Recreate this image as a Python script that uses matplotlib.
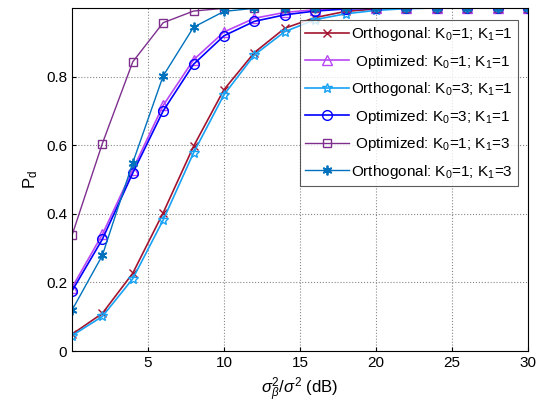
import numpy as np
import matplotlib
matplotlib.use("Agg")
import matplotlib.pyplot as plt

plt.rcParams['font.family'] = ['Liberation Sans', 'DejaVu Sans']
plt.rcParams['mathtext.fontset'] = 'custom'
plt.rcParams['mathtext.rm'] = 'Liberation Sans'
plt.rcParams['mathtext.it'] = 'Liberation Sans:italic'

snr = [0, 2, 4, 6, 8, 10, 12, 14, 16, 18, 20, 22, 24, 26, 28, 30]

orth_11 = [0.049, 0.110, 0.227, 0.403, 0.597, 0.762, 0.870, 0.941, 0.972, 0.990, 0.997, 1, 1, 1, 1, 1]
opt_11 = [0.185, 0.340, 0.529, 0.716, 0.849, 0.930, 0.970, 0.987, 0.995, 0.999, 1, 1, 1, 1, 1, 1]
orth_31 = [0.045, 0.101, 0.211, 0.382, 0.578, 0.747, 0.863, 0.931, 0.966, 0.983, 0.993, 0.998, 1, 1, 1, 1]
opt_31 = [0.175, 0.326, 0.519, 0.700, 0.836, 0.919, 0.961, 0.980, 0.991, 0.997, 0.999, 1, 1, 1, 1, 1]
opt_13 = [0.337, 0.605, 0.843, 0.957, 0.991, 0.999, 1, 1, 1, 1, 1, 1, 1, 1, 1, 1]
orth_13 = [0.119, 0.279, 0.549, 0.802, 0.944, 0.990, 0.999, 1, 1, 1, 1, 1, 1, 1, 1, 1]

fig = plt.figure(figsize=(5.41, 4.19), dpi=100)
ax = fig.add_axes([0.133, 0.162, 0.843, 0.819])

ax.plot(snr, orth_11, color='#A2142F', marker='x', ms=6, lw=1.2, label='Orthogonal: K$_0$=1; K$_1$=1')
ax.plot(snr, opt_11, color='#B846F5', marker='^', ms=7, mfc='none', lw=1.2, label=' Optimized: K$_0$=1; K$_1$=1')
ax.plot(snr, orth_31, color='#17A2F5', marker='*', ms=7, mfc='none', lw=1.2, label='Orthogonal: K$_0$=3; K$_1$=1')
ax.plot(snr, opt_31, color='#0000FF', marker='o', ms=7, mfc='none', lw=1.2, label=' Optimized: K$_0$=3; K$_1$=1')
ax.plot(snr, opt_13, color='#7E2F8E', marker='s', ms=6, mfc='none', lw=1.0, label=' Optimized: K$_0$=1; K$_1$=3')
ax.plot(snr, orth_13, color='#0072BD', marker=(6, 2, 0), ms=7, mew=1.3, lw=1.0, label='Orthogonal: K$_0$=1; K$_1$=3')

ax.set_xlim(0, 30)
ax.set_ylim(0, 1)
ax.set_xticks([5, 10, 15, 20, 25, 30])
ax.set_yticks([0, 0.2, 0.4, 0.6, 0.8])
ax.set_yticklabels(['0', '0.2', '0.4', '0.6', '0.8'])
ax.tick_params(labelsize=11, direction='in', length=3)
ax.grid(True, linestyle=':', color='#888888', lw=0.8)
ax.set_xlabel(r'$\sigma^2_\beta/\sigma^2$ (dB)', fontsize=12)
ax.set_ylabel('P$_\mathregular{d}$', fontsize=12)

leg = ax.legend(loc='upper right', bbox_to_anchor=(0.978, 0.965), fontsize=11,
                handlelength=2.9, fancybox=False, edgecolor='#333333',
                borderpad=0.35, labelspacing=0.62, handletextpad=0.1,
                borderaxespad=0.0)
leg.get_frame().set_linewidth(0.8)

fig.savefig('out.png', dpi=100)
